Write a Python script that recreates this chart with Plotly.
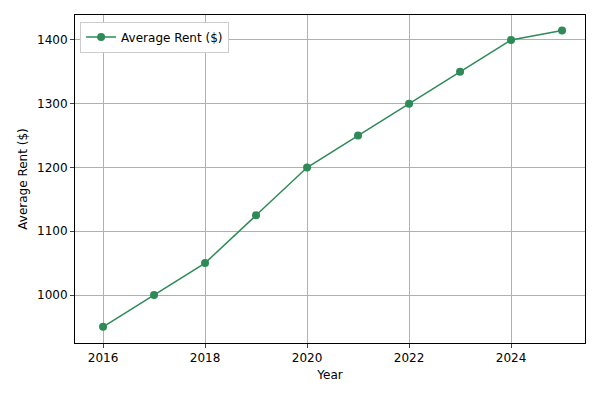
import plotly.graph_objects as go

years = [2016, 2017, 2018, 2019, 2020, 2021, 2022, 2023, 2024, 2025]
rent = [950, 1000, 1050, 1125, 1200, 1250, 1300, 1350, 1400, 1415]

fig = go.Figure(go.Scatter(x=years, y=rent, mode="lines+markers", name="Average Rent ($)",
                           line=dict(color="#2e8b57", width=1.5), marker=dict(size=8, color="#2e8b57"),
                           showlegend=True))
axis = dict(showline=True, linecolor="black", mirror=True, ticks="outside", ticklen=4,
            showgrid=True, gridcolor="#b0b0b0", zeroline=False, tickfont=dict(size=12, color="black"))
fig.update_layout(
    width=600, height=400, paper_bgcolor="white", plot_bgcolor="white",
    margin=dict(l=67, r=23, t=7, b=65),
    font=dict(family="DejaVu Sans", color="black"),
    xaxis=dict(axis, range=[2015.45, 2025.45], tickvals=[2016, 2018, 2020, 2022, 2024],
               title=dict(text="Year", font=dict(size=12), standoff=6)),
    yaxis=dict(axis, range=[924.7, 1439.2], tickvals=[1000, 1100, 1200, 1300, 1400],
               title=dict(text="Average Rent ($)", font=dict(size=12), standoff=6)),
    legend=dict(x=0.01, y=0.98, xanchor="left", yanchor="top", bordercolor="#cccccc", borderwidth=1,
                bgcolor="white", font=dict(size=12)),
)
fig.write_html("out.html")
